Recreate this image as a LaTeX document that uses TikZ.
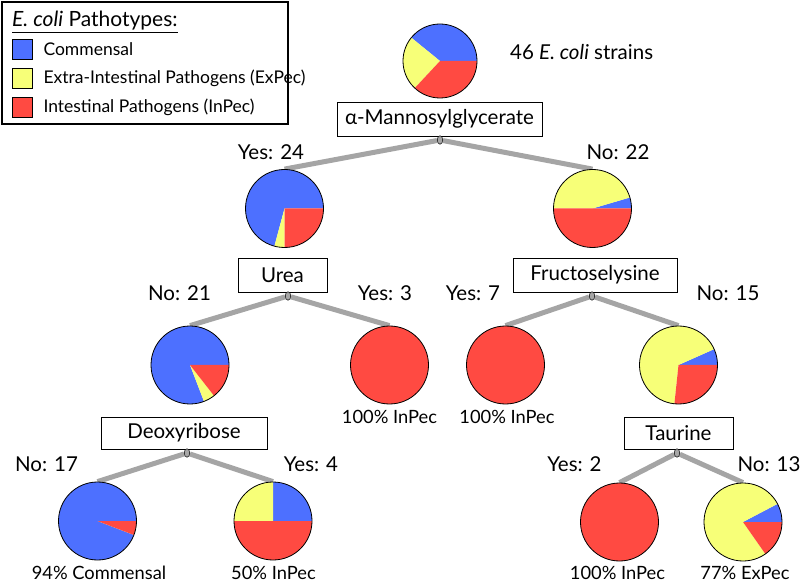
\documentclass[tikz,border=0pt]{standalone}
\usepackage{fontspec}
\setmainfont{Lato}
\usetikzlibrary{positioning,shapes.geometric,backgrounds}

\definecolor{cblue}{RGB}{77,112,255}
\definecolor{cyellow}{RGB}{247,255,120}
\definecolor{cred}{RGB}{255,74,66}
\definecolor{branchgray}{RGB}{165,165,165}

\tikzset{
  pie/.style={circle, draw, line width=0.8pt, inner sep=0pt},
  testbox/.style={draw, fill=white, line width=0.8pt, minimum height=34pt, inner sep=0pt, font=\fontsize{20.5}{24}\selectfont},
  knot/.style={ellipse, draw, fill=gray!70, line width=0.5pt, minimum width=5.5pt, minimum height=8.5pt, inner sep=0pt},
  count/.style={inner sep=0pt, font=\fontsize{20.5}{24}\selectfont},
  result/.style={inner sep=0pt, font=\fontsize{18.3}{22}\selectfont},
  branch/.style={line width=5pt, branchgray},
  legsq/.style={draw, line width=0.6pt, minimum size=20pt, inner sep=0pt},
  legtext/.style={inner sep=0pt, anchor=west, font=\fontsize{17.5}{20}\selectfont}
}

% name, centre, radius, end of blue, end of yellow (red is the rest)
\newcommand{\piechart}[5]{%
  \begin{scope}[shift={#2},yscale=-1]
    \fill[cblue] (0,0) -- (0:#3) arc[start angle=0,end angle=#4,radius=#3] -- cycle;
    \fill[cyellow] (0,0) -- (#4:#3) arc[start angle=#4,end angle=#5,radius=#3] -- cycle;
    \fill[cred] (0,0) -- (#5:#3) arc[start angle=#5,end angle=360,radius=#3] -- cycle;
  \end{scope}
  \node[pie, minimum size=2*#3] (#1) at #2 {};
}

\begin{document}
\begin{tikzpicture}[x=1pt,y=1pt,yscale=-1]
  \useasboundingbox (0,0) rectangle (801,585);

  % legend
  \draw[line width=1.2pt] (2,2) rectangle (288,124);
  \node[legtext, font=\fontsize{21}{24}\selectfont] (legtitle) at (12,22) {\underline{\textit{E. coli} Pathotypes:}};
  \node[legsq, fill=cblue] (lgc) at (22,49) {};
  \node[legtext, right=11pt of lgc] (lgct) {Commensal};
  \node[legsq, fill=cyellow] (lgx) at (22,78) {};
  \node[legtext, right=11pt of lgx] (lgxt) {Extra-Intestinal Pathogens (ExPec)};
  \node[legsq, fill=cred] (lgi) at (22,107) {};
  \node[legtext, right=11pt of lgi] (lgit) {Intestinal Pathogens (InPec)};

  % pies
  \piechart{all}{(440,61)}{37}{140.9}{227}
  \piechart{y24}{(284.5,208.5)}{39}{255}{270}
  \piechart{n22}{(592.5,208.5)}{39}{16.4}{180}
  \piechart{n21}{(190,365)}{39}{291}{308}
  \piechart{y3}{(389.5,365)}{39}{0}{0}
  \piechart{y7}{(505.5,365)}{39}{0}{0}
  \piechart{n15}{(678.5,365)}{39}{24}{264}
  \piechart{n17}{(97.5,521)}{39}{339}{339}
  \piechart{y4}{(273,521)}{39}{90}{180}
  \piechart{y2}{(619.5,522)}{39}{0}{0}
  \piechart{n13}{(743,522)}{39}{27.7}{305}

  \node[count, anchor=west] (lall) at (510,52) {46 \textit{E. coli} strains};

  % tests
  \node[testbox, minimum width=205pt] (mgly) at (439.5,119) {α-Mannosylglycerate};
  \node[testbox, minimum width=89pt] (urea) at (282.5,275) {Urea};
  \node[testbox, minimum width=164pt] (fruc) at (595,275) {Fructoselysine};
  \node[testbox, minimum width=166pt, minimum height=32pt] (deox) at (184,433) {Deoxyribose};
  \node[testbox, minimum width=109pt, minimum height=32pt] (taur) at (678.5,433) {Taurine};

  \node[knot] (k1) at (440,140) {};
  \node[knot] (k2) at (288,296) {};
  \node[knot] (k3) at (592,296) {};
  \node[knot] (k4) at (187,453) {};
  \node[knot] (k5) at (677,453) {};

  % branches
  \begin{pgfonlayer}{background}
    \draw[branch] (k1) -- (y24.north);
    \draw[branch] (k1) -- (n22.north);
    \draw[branch] (k2) -- (n21.north);
    \draw[branch] (k2) -- (y3.north);
    \draw[branch] (k3) -- (y7.north);
    \draw[branch] (k3) -- (n15.north);
    \draw[branch] (k4) -- (n17.north);
    \draw[branch] (k4) -- (y4.north);
    \draw[branch] (k5) -- (y2.north);
    \draw[branch] (k5) -- (n13.north);
  \end{pgfonlayer}

  % counts
  \node[count] (ly24) at (271,152) {Yes: 24};
  \node[count] (ln22) at (618,152) {No: 22};
  \node[count] (ln21) at (179.5,293) {No: 21};
  \node[count] (ly3) at (385,293) {Yes: 3};
  \node[count] (ly7) at (473,293) {Yes: 7};
  \node[count] (ln15) at (728,293) {No: 15};
  \node[count] (ln17) at (46.5,464) {No: 17};
  \node[count] (ly4) at (311,464) {Yes: 4};
  \node[count] (ly2) at (574.5,464) {Yes: 2};
  \node[count] (ln13) at (769,464) {No: 13};

  % results
  \node[result] (ry3) at (389.5,417) {100\% InPec};
  \node[result] (ry7) at (507,417) {100\% InPec};
  \node[result] (rn17) at (99,573) {94\% Commensal};
  \node[result] (ry4) at (273.5,573) {50\% InPec};
  \node[result] (ry2) at (617.5,573) {100\% InPec};
  \node[result] (rn13) at (745,573) {77\% ExPec};
\end{tikzpicture}
\end{document}
